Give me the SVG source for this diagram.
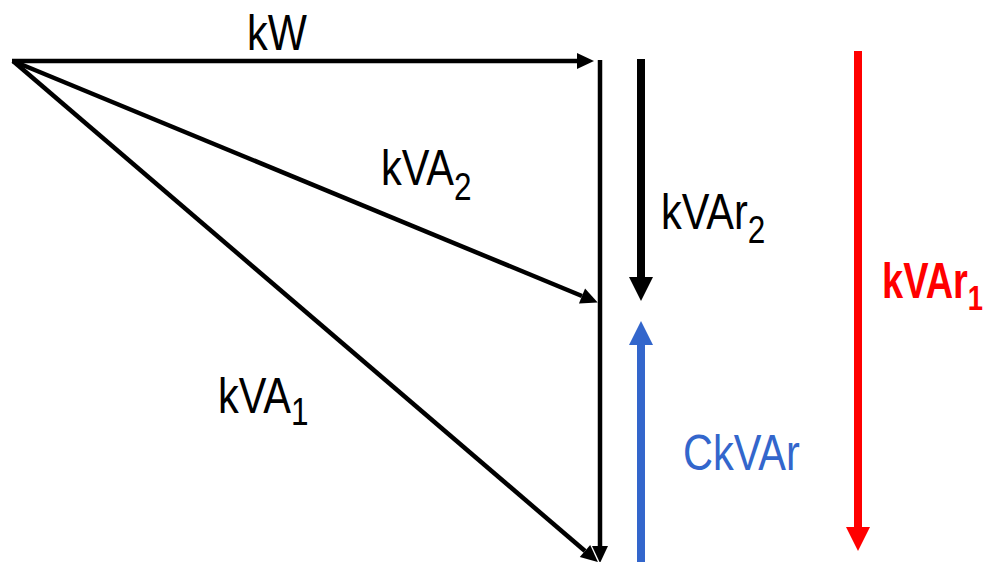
<svg xmlns="http://www.w3.org/2000/svg" width="990" height="562" viewBox="0 0 990 562">
<defs>
<style>
.thin{stroke:#000;stroke-width:4.5;fill:none}
.lbl{font-family:"Liberation Sans",Arial,sans-serif;font-size:50px}
</style>
<marker id="ah" markerUnits="userSpaceOnUse" markerWidth="18" markerHeight="16" refX="0" refY="8" orient="auto" overflow="visible">
<path d="M0,0 L17,8 L0,16 z" fill="#000"/>
</marker>
</defs>
<rect width="990" height="562" fill="#fff"/>
<g id="connectors">
<line class="thin" x1="12" y1="61" x2="577" y2="61" marker-end="url(#ah)"/>
<line class="thin" x1="600" y1="60" x2="600" y2="546" marker-end="url(#ah)"/>
<line class="thin" x1="13" y1="61" x2="582" y2="296" marker-end="url(#ah)"/>
<line class="thin" x1="13" y1="61" x2="585" y2="551" marker-end="url(#ah)"/>
<line x1="641" y1="59" x2="641" y2="278" stroke="#000" stroke-width="8"/>
<polygon points="629,277 653,277 641,301" fill="#000"/>
<line x1="641" y1="562" x2="641" y2="344" stroke="#3366CC" stroke-width="8"/>
<polygon points="629,345 653,345 641,321" fill="#3366CC"/>
<line x1="858" y1="51" x2="858" y2="528" stroke="#FF0000" stroke-width="8"/>
<polygon points="846,527 870,527 858,551" fill="#FF0000"/>
</g>
<g id="kW">
<text class="lbl" transform="translate(247,50) scale(0.83,1)">kW</text>
</g>
<g id="kVA2">
<text class="lbl" transform="translate(381,185) scale(0.83,1)">kVA<tspan font-size="38" dy="15">2</tspan></text>
</g>
<g id="kVAr2">
<text class="lbl" transform="translate(661,229) scale(0.83,1)">kVAr<tspan font-size="38" dy="14">2</tspan></text>
</g>
<g id="kVA1">
<text class="lbl" transform="translate(218,413) scale(0.83,1)">kVA<tspan font-size="38" dy="12">1</tspan></text>
</g>
<g id="CkVAr">
<text class="lbl" fill="#3366CC" transform="translate(683,470) scale(0.83,1)">CkVAr</text>
</g>
<g id="kVAr1">
<text class="lbl" fill="#FF0000" font-weight="bold" transform="translate(882,298) scale(0.76,1)">kVAr<tspan font-size="36" dy="12">1</tspan></text>
</g>
</svg>
